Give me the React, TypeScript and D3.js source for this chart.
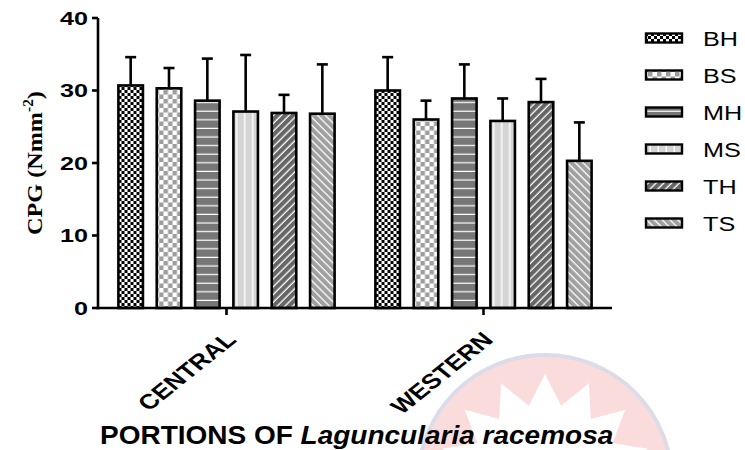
import React from 'react';
import * as d3 from 'd3';

// chart values
const categories = ['CENTRAL', 'WESTERN'];
const series = ['BH', 'BS', 'MH', 'MS', 'TH', 'TS'];
const centralMeans = [30.7, 30.3, 28.6, 27.1, 26.9, 26.8];
const centralSd = [3.9, 2.8, 5.8, 7.8, 2.5, 6.8];
const westernMeans = [30.0, 26.0, 28.9, 25.8, 28.4, 20.3];
const westernSd = [4.6, 2.6, 4.7, 3.1, 3.2, 5.3];
const yTicks = [0, 10, 20, 30, 40];

const means = [centralMeans, westernMeans];
const sds = [centralSd, westernSd];

const W = 745;
const H = 450;
const margin = { top: 18, left: 98, bottom: 142, right: 133 };

const x = d3.scalePoint<string>().domain(categories).range([margin.left, W - margin.right]).padding(0.5);
const xs = d3.scaleBand<string>().domain(series).range([-115, 115]).paddingInner(0.36).paddingOuter(0.18);
const y = d3.scaleLinear().domain([0, 40]).range([H - margin.bottom, margin.top]);

const patternId = (s: string) => `pat-${s}`;

const Patterns = () => (
  <defs>
    <pattern id="pat-BH" width={6} height={6} patternUnits="userSpaceOnUse">
      <rect width={6} height={6} fill="#fff" />
      <rect width={3} height={3} fill="#000" />
      <rect x={3} y={3} width={3} height={3} fill="#000" />
    </pattern>
    <pattern id="pat-BS" width={9} height={9} patternUnits="userSpaceOnUse">
      <rect width={9} height={9} fill="#fff" />
      <rect width={4.5} height={4.5} fill="#9e9e9e" />
      <rect x={4.5} y={4.5} width={4.5} height={4.5} fill="#9e9e9e" />
    </pattern>
    <pattern id="pat-MH" width={8} height={8.6} patternUnits="userSpaceOnUse">
      <rect width={8} height={8.6} fill="#777" />
      <rect y={7.4} width={8} height={1.2} fill="#fff" />
    </pattern>
    <pattern id="pat-MS" width={8} height={8} patternUnits="userSpaceOnUse" x={3}>
      <rect width={8} height={8} fill="#d4d4d4" />
      <rect x={6.6} width={1.4} height={8} fill="#fff" />
    </pattern>
    <pattern id="pat-TH" width={5.5} height={5.5} patternUnits="userSpaceOnUse" patternTransform="rotate(45)">
      <rect width={5.5} height={5.5} fill="#666" />
      <rect x={4.2} width={1.3} height={5.5} fill="#fff" />
    </pattern>
    <pattern id="pat-TS" width={5.5} height={5.5} patternUnits="userSpaceOnUse" patternTransform="rotate(-45)">
      <rect width={5.5} height={5.5} fill="#a0a0a0" />
      <rect x={4.2} width={1.3} height={5.5} fill="#fff" />
    </pattern>
  </defs>
);

// faint logo watermark in the lower right corner
const Watermark = () => {
  const cx = 545;
  const cy = 482;
  const n = 30;
  const star = d3.range(n).map((i) => {
    const a = (i / n) * Math.PI * 2 - Math.PI / 2;
    const r = i % 2 === 0 ? 108 : 78;
    return [cx + r * Math.cos(a), cy + r * Math.sin(a)] as [number, number];
  });
  return (
    <g>
      <circle cx={cx} cy={cy} r={127} fill="#fbdcdd" stroke="#dcdce8" strokeWidth={4} />
      <path d={d3.line()(star) + 'Z'} fill="#fff" />
    </g>
  );
};

export default function App() {
  const baseY = y(0);
  return (
    <svg width={W} height={H} style={{ position: 'absolute', left: 0, top: 0, background: '#fff' }}>
      <Patterns />
      <rect width={W} height={H} fill="#fff" />
      <Watermark />

      {/* bars and error bars */}
      {categories.map((c, ci) => (
        <g key={c} transform={`translate(${x(c)},0)`}>
          {series.map((s, si) => {
            const v = means[ci][si];
            const e = sds[ci][si];
            const bx = xs(s)!;
            const bw = xs.bandwidth();
            const mid = bx + bw / 2;
            return (
              <g key={s}>
                <line x1={mid} x2={mid} y1={y(v)} y2={y(v + e)} stroke="#000" strokeWidth={2.6} />
                <line x1={mid - 5.5} x2={mid + 5.5} y1={y(v + e)} y2={y(v + e)} stroke="#000" strokeWidth={2.6} />
                <rect
                  x={bx}
                  y={y(v)}
                  width={bw}
                  height={baseY - y(v)}
                  fill={`url(#${patternId(s)})`}
                  stroke="#000"
                  strokeWidth={2.6}
                />
              </g>
            );
          })}
        </g>
      ))}

      {/* y axis */}
      <line x1={margin.left} x2={margin.left} y1={y(40)} y2={baseY + 1.3} stroke="#000" strokeWidth={2.6} />
      {yTicks.map((t) => (
        <g key={t}>
          <line x1={margin.left - 6} x2={margin.left} y1={y(t)} y2={y(t)} stroke="#000" strokeWidth={2.6} />
          <text
            transform={`translate(${margin.left - 10},${y(t) + 6.5}) scale(1.4,1)`}
            textAnchor="end"
            fontFamily="Liberation Sans, Arial, sans-serif"
            fontWeight="bold"
            fontSize={18}
          >
            {t}
          </text>
        </g>
      ))}
      <text
        transform={`translate(42,${(y(40) + baseY) / 2}) rotate(-90) scale(1.1,1)`}
        textAnchor="middle"
        fontFamily="Liberation Serif, Times New Roman, serif"
        fontWeight="bold"
        fontSize={22}
      >
        CPG (Nmm<tspan dy={-9} fontSize={14}>-2</tspan>
        <tspan dy={9}>)</tspan>
      </text>

      {/* x axis */}
      <line x1={margin.left - 1.3} x2={W - margin.right} y1={baseY} y2={baseY} stroke="#000" strokeWidth={2.6} />
      {categories.map((c) => (
        <g key={c}>
          <line x1={x(c)} x2={x(c)} y1={baseY} y2={baseY + 7} stroke="#000" strokeWidth={2.6} />
          <text
            transform={`translate(${x(c)! + 11},341) scale(1.25,1) rotate(-45)`}
            textAnchor="end"
            fontFamily="Liberation Sans, Arial, sans-serif"
            fontWeight="bold"
            fontSize={21}
          >
            {c}
          </text>
        </g>
      ))}
      <text
        transform={`translate(100,444) scale(1.12,1)`}
        fontFamily="Liberation Sans, Arial, sans-serif"
        fontWeight="bold"
        fontSize={25}
      >
        PORTIONS OF <tspan fontStyle="italic">Laguncularia racemosa</tspan>
      </text>

      {/* legend */}
      {series.map((s, i) => {
        const ly = 38 + i * 37;
        return (
          <g key={s}>
            <rect x={646} y={ly - 4.5} width={36} height={9} fill={`url(#${patternId(s)})`} stroke="#000" strokeWidth={2.4} />
            <text
              transform={`translate(703,${ly + 7.5}) scale(1.2,1)`}
              fontFamily="Liberation Sans, Arial, sans-serif"
              fontSize={21}
            >
              {s}
            </text>
          </g>
        );
      })}
    </svg>
  );
}
